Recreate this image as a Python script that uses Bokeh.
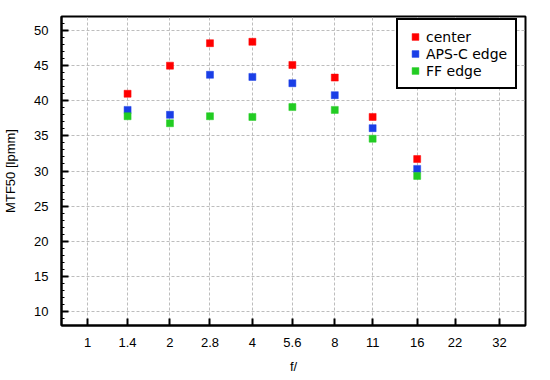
from bokeh.plotting import figure
from bokeh.models import (Range1d, FixedTicker, CustomJSTickFormatter, Legend, LegendItem,
                          ColumnDataSource)
from bokeh.embed import file_html
from bokeh.resources import INLINE

# ---- data ----
f_stops = [1.4, 2, 2.8, 4, 5.6, 8, 11, 16]
center = [41.0, 45.0, 48.2, 48.4, 45.1, 43.3, 37.7, 31.7]
aps_c_edge = [38.7, 38.0, 43.7, 43.4, 42.5, 40.8, 36.1, 30.3]
ff_edge = [37.8, 36.8, 37.8, 37.7, 39.1, 38.7, 34.6, 29.3]

x_ticks = [1, 1.4, 2, 2.8, 4, 5.6, 8, 11, 16, 22, 32]
x_labels = ["1", "1.4", "2", "2.8", "4", "5.6", "8", "11", "16", "22", "32"]
y_ticks = [10, 15, 20, 25, 30, 35, 40, 45, 50]

series_names = ["center", "APS-C edge", "FF edge"]
series_colors = ["#ff0000", "#1a3ee6", "#22cc22"]

TICK_FONT = "Liberation Sans"

p = figure(frame_width=464, frame_height=309,
           x_axis_type="log",
           x_range=Range1d(0.803, 39.8), y_range=Range1d(8, 52),
           output_backend="svg", toolbar_location=None,
           min_border_left=61, min_border_top=16, min_border_right=20, min_border_bottom=50,
           background_fill_color="white", border_fill_color="white")

p.outline_line_color = "black"
p.outline_line_width = 2
p.outline_line_alpha = 1

# grid
for g in (p.xgrid, p.ygrid):
    g.grid_line_color = "#bdbdbd"
    g.grid_line_dash = "3 2"
    g.grid_line_width = 1
p.xgrid.ticker = FixedTicker(ticks=x_ticks)
p.ygrid.ticker = FixedTicker(ticks=y_ticks)

# x axis
xa = p.xaxis[0]
xa.ticker = FixedTicker(ticks=x_ticks, minor_ticks=[])
xa.formatter = CustomJSTickFormatter(args=dict(tvals=x_ticks, tlabels=x_labels), code="""
    for (let i = 0; i < tvals.length; i++) {
        if (Math.abs(tvals[i] - tick) < 1e-6) return tlabels[i];
    }
    return "";
""")
xa.axis_label = "f/"
xa.major_tick_in = 7
xa.major_tick_out = 0
xa.minor_tick_in = 0
xa.minor_tick_out = 0
xa.axis_line_width = 2
xa.major_tick_line_width = 2
xa.major_label_standoff = 12
xa.axis_label_standoff = 9

# y axis
ya = p.yaxis[0]
ya.ticker = FixedTicker(ticks=y_ticks, minor_ticks=list(range(8, 53)))
ya.axis_label = "MTF50 [lpmm]"
ya.major_tick_in = 7
ya.major_tick_out = 0
ya.minor_tick_in = 3
ya.minor_tick_out = 0
ya.axis_line_width = 2
ya.major_tick_line_width = 2
ya.minor_tick_line_width = 1
ya.major_label_standoff = 13
ya.axis_label_standoff = 13

for ax in (xa, ya):
    ax.major_label_text_font = TICK_FONT
    ax.major_label_text_font_size = "13px"
    ax.major_label_text_color = "black"
    ax.axis_label_text_font = TICK_FONT
    ax.axis_label_text_font_size = "13px"
    ax.axis_label_text_font_style = "normal"
    ax.axis_label_text_color = "black"
    ax.axis_line_color = "black"
    ax.major_tick_line_color = "black"
    ax.minor_tick_line_color = "black"

items = []
for name, vals, col in zip(series_names, [center, aps_c_edge, ff_edge], series_colors):
    src = ColumnDataSource(dict(x=f_stops, y=vals))
    r = p.scatter("x", "y", source=src, marker="square", size=7,
                  fill_color=col, line_color=col, line_width=0.5)
    items.append(LegendItem(label=name, renderers=[r]))

legend = Legend(items=items, location=(335, 236))
legend.label_text_font = "DejaVu Sans"
legend.label_text_font_size = "14px"
legend.label_text_color = "black"
legend.border_line_color = "black"
legend.border_line_alpha = 1
legend.border_line_width = 2
legend.background_fill_color = "white"
legend.background_fill_alpha = 1
legend.padding = 8
legend.spacing = 0
legend.margin = 0
legend.glyph_width = 18
legend.glyph_height = 17
legend.label_height = 17
legend.label_standoff = 2
p.add_layout(legend, "center")

open("out.html", "w").write(file_html(p, INLINE))
